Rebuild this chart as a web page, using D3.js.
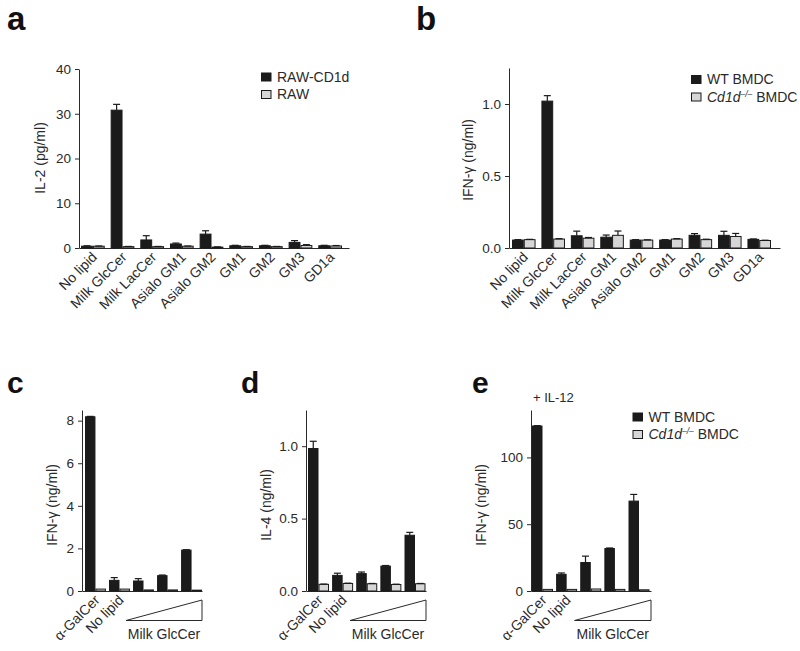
<!DOCTYPE html>
<html><head><meta charset="utf-8">
<script src="https://cdn.jsdelivr.net/npm/d3@7"></script>
<style>
body{margin:0;background:#fff;}
svg{display:block;font-family:"Liberation Sans",Arial,Helvetica,sans-serif;}
</style></head>
<body>
<svg id="chart" width="800" height="651"></svg>
<script>
// ---------- DATA ----------
const catsAB = ["No lipid","Milk GlcCer","Milk LacCer","Asialo GM1","Asialo GM2","GM1","GM2","GM3","GD1a"];
const catsCDE = ["α-GalCer","No lipid","dose1","dose2","dose3"];
const labelsCDE = ["α-GalCer","No lipid","","",""];

// a: IL-2 (pg/ml)
const aRawCD1d    = [0.4, 30.8, 1.8, 0.9, 3.1, 0.5, 0.5, 1.25, 0.5];
const aRawCD1dErr = [0.1, 1.3, 0.95, 0.2, 0.75, 0.1, 0.1, 0.4, 0.1];
const aRaw        = [0.4, 0.3, 0.3, 0.4, 0.2, 0.3, 0.3, 0.55, 0.45];
const aRawErr     = [0.05, 0.05, 0.05, 0.05, 0.05, 0.05, 0.05, 0.2, 0.1];

// b: IFN-γ (ng/ml)
const bWT     = [0.055, 1.02, 0.085, 0.075, 0.055, 0.055, 0.088, 0.088, 0.06];
const bWTErr  = [0.003, 0.038, 0.032, 0.015, 0.003, 0.003, 0.012, 0.028, 0.003];
const bKO     = [0.058, 0.062, 0.068, 0.088, 0.055, 0.062, 0.058, 0.08, 0.052];
const bKOErr  = [0.002, 0.003, 0.005, 0.03, 0.002, 0.003, 0.003, 0.021, 0.002];

// c: IFN-γ (ng/ml)
const cWT    = [8.18, 0.5, 0.47, 0.72, 1.92];
const cWTErr = [0.02, 0.13, 0.11, 0.03, 0.02];
const cKO    = [0.09, 0.09, 0.05, 0.05, 0.04];
const cKOErr = [0, 0, 0, 0, 0];

// d: IL-4 (ng/ml)
const dWT    = [0.984, 0.108, 0.12, 0.172, 0.385];
const dWTErr = [0.05, 0.015, 0.011, 0.004, 0.02];
const dKO    = [0.046, 0.052, 0.05, 0.045, 0.05];
const dKOErr = [0.002, 0.002, 0.002, 0.002, 0.002];

// e: IFN-γ (ng/ml), + IL-12
const eWT    = [123.5, 12.5, 21.3, 31.8, 67.3];
const eWTErr = [0.3, 1.0, 4.8, 0.4, 5.0];
const eKO    = [1.2, 1.2, 1.5, 1.2, 0.9];
const eKOErr = [0, 0, 0, 0, 0];

const ticksA = [0, 10, 20, 30, 40];
const ticksB = [0, 0.5, 1.0];
const ticksC = [0, 2, 4, 6, 8];
const ticksD = [0, 0.5, 1.0];
const ticksE = [0, 50, 100];

// ---------- DRAW ----------
const svg = d3.select("#chart");
const BLACK = "#1b1b1b", GREY = "#d6d6d6", INK = "#2a2a2a";
const FS = 14, TFS = 13.5;

function panel(o){
  const g = svg.append("g");
  const y = d3.scaleLinear().domain([0, o.ymax]).range([o.y0, o.yTop]);
  const x = d3.scaleBand().domain(o.cats).range(o.barRange).paddingInner(o.pad).paddingOuter(0);
  const x2 = d3.scaleBand().domain(["s1","s2"]).range([0, x.bandwidth()]);

  // y axis
  const ya = g.append("g").attr("transform", `translate(${o.x0},0)`)
    .call(d3.axisLeft(y).tickValues(o.ticks).tickFormat(o.fmt).tickSize(4).tickSizeOuter(0));
  ya.select(".domain").attr("stroke", INK);
  ya.selectAll(".tick line").attr("stroke", INK);
  ya.selectAll(".tick text").attr("font-size", TFS).attr("fill", INK).attr("font-family", null).attr("dx", "-1");

  // x axis line
  const xl = d3.scaleLinear().range([o.x0, o.x1]);
  const xa = g.append("g").attr("transform", `translate(0,${o.y0})`)
    .call(d3.axisBottom(xl).ticks(0).tickSizeOuter(0));
  xa.select(".domain").attr("stroke", INK);

  const series = [
    {k:"s1", v:o.s1, e:o.e1, fill:BLACK},
    {k:"s2", v:o.s2, e:o.e2, fill:GREY}
  ];
  series.forEach(s => {
    const gg = g.append("g");
    gg.selectAll("rect").data(o.cats).join("rect")
      .attr("x", (c) => x(c) + x2(s.k) + 0.5)
      .attr("width", x2.bandwidth() - 1)
      .attr("y", (c,i) => y(s.v[i]))
      .attr("height", (c,i) => o.y0 - y(s.v[i]))
      .attr("fill", s.fill).attr("stroke", "#1a1a1a").attr("stroke-width", 1);
    // error bars (upper)
    const eb = gg.selectAll("g.err").data(o.cats).join("g").attr("class","err");
    eb.filter((c,i)=>s.e[i]>0).append("line")
      .attr("x1",(c)=>x(c)+x2(s.k)+x2.bandwidth()/2)
      .attr("x2",(c)=>x(c)+x2(s.k)+x2.bandwidth()/2)
      .attr("y1",(c,i)=>y(s.v[i]))
      .attr("y2",(c,i)=>y(s.v[i]+s.e[i]))
      .attr("stroke","#1a1a1a").attr("stroke-width",1.2);
    eb.filter((c,i)=>s.e[i]>0).append("line")
      .attr("x1",(c)=>x(c)+x2(s.k)+x2.bandwidth()/2-3.5)
      .attr("x2",(c)=>x(c)+x2(s.k)+x2.bandwidth()/2+3.5)
      .attr("y1",(c,i)=>y(s.v[i]+s.e[i]))
      .attr("y2",(c,i)=>y(s.v[i]+s.e[i]))
      .attr("stroke","#1a1a1a").attr("stroke-width",1.2);
  });

  // category labels
  g.selectAll("text.cat").data(o.cats).join("text").attr("class","cat")
    .attr("text-anchor","end").attr("font-size",FS).attr("fill",INK)
    .attr("transform",(c)=>`translate(${x(c)+x.bandwidth()/2+5},${o.y0+10}) rotate(-45)`)
    .text((c,i)=>o.labels[i]);

  // y title
  const yt = g.append("text").attr("text-anchor","middle").attr("font-size",FS).attr("fill",INK)
    .attr("transform",`translate(${o.ytx},${o.yty}) rotate(-90)`);
  o.ytitle.forEach(t => yt.append("tspan").text(t));

  // panel letter
  g.append("text").attr("x",o.lx).attr("y",o.ly).attr("font-size",o.lfs).attr("font-weight","bold").attr("fill","#111").text(o.letter);

  // triangle
  if(o.tri){
    const tx = d3.scaleLinear().domain([0,1]).range([o.tri[0], o.x1]);
    const pts = [[tx(0),o.tri[1]],[tx(1),o.tri[2]],[tx(1),o.tri[1]]];
    g.append("path").attr("d", d3.line()(pts)+"Z").attr("fill","none").attr("stroke",INK).attr("stroke-width",1);
    g.append("text").attr("x",(tx(0)+tx(1))/2).attr("y",o.tri[1]+18).attr("text-anchor","middle")
      .attr("font-size",FS).attr("fill",INK).text("Milk GlcCer");
  }
  return g;
}

function legend(x, y, items){
  const g = svg.append("g").attr("transform",`translate(${x},${y})`);
  items.forEach((it,i)=>{
    g.append("rect").attr("x",0.5).attr("y",i*17.5-8.5).attr("width",9.5).attr("height",8).attr("fill",it.fill).attr("stroke","#1a1a1a");
    const t = g.append("text").attr("x",16).attr("y",i*17.5).attr("font-size",FS).attr("fill",INK);
    it.parts.forEach(p=>{
      const ts = t.append("tspan").text(p.t);
      if(p.it) ts.attr("font-style","italic");
      if(p.sup) ts.attr("font-size",8.5).attr("dy",-5);
      if(p.after) ts.attr("dy",5);
    });
  });
}

panel({cats:catsAB, labels:catsAB, s1:aRawCD1d, e1:aRawCD1dErr, s2:aRaw, e2:aRawErr,
  ymax:40, ticks:ticksA, fmt:d3.format("d"), x0:79, x1:349, y0:248, yTop:69, barRange:[81,342], pad:0.2,
  ytitle:["IL-2 (pg/ml)"], ytx:45, yty:158, letter:"a", lx:7, ly:30, lfs:33});
panel({cats:catsAB, labels:catsAB, s1:bWT, e1:bWTErr, s2:bKO, e2:bKOErr,
  ymax:1.25, ticks:ticksB, fmt:d3.format(".1f"), x0:509, x1:780, y0:248, yTop:68, barRange:[512,771], pad:0.2,
  ytitle:["IFN-γ (ng/ml)"], ytx:473, yty:160, letter:"b", lx:416, ly:30, lfs:33});
panel({cats:catsCDE, labels:labelsCDE, s1:cWT, e1:cWTErr, s2:cKO, e2:cKOErr,
  ymax:8.5, ticks:ticksC, fmt:d3.format("d"), x0:82, x1:202, y0:591, yTop:410, barRange:[85,202], pad:0.13,
  ytitle:["IFN-γ (ng/ml)"], ytx:57, yty:505, letter:"c", lx:7, ly:393, lfs:30, tri:[126,620.5,600]});
panel({cats:catsCDE, labels:labelsCDE, s1:dWT, e1:dWTErr, s2:dKO, e2:dKOErr,
  ymax:1.25, ticks:ticksD, fmt:d3.format(".1f"), x0:306, x1:426, y0:591, yTop:410, barRange:[308,425.5], pad:0.13,
  ytitle:["IL-4 (ng/ml)"], ytx:271, yty:505, letter:"d", lx:241, ly:393, lfs:30, tri:[350,620.5,600]});
panel({cats:catsCDE, labels:labelsCDE, s1:eWT, e1:eWTErr, s2:eKO, e2:eKOErr,
  ymax:135.5, ticks:ticksE, fmt:d3.format("d"), x0:531, x1:651, y0:591, yTop:410, barRange:[532,649.5], pad:0.13,
  ytitle:["IFN-γ (ng/ml)"], ytx:486, yty:505, letter:"e", lx:472, ly:393, lfs:30, tri:[574.5,620.5,600]});

svg.append("text").attr("x",533).attr("y",402).attr("font-size",FS-1).attr("fill",INK).text("+ IL-12");

legend(261, 81.5, [{fill:BLACK, parts:[{t:"RAW-CD1d"}]},{fill:GREY, parts:[{t:"RAW"}]}]);
legend(691, 84, [{fill:BLACK, parts:[{t:"WT BMDC"}]},{fill:GREY, parts:[{t:"Cd1d",it:true},{t:"–/–",sup:true,it:true},{t:" BMDC",after:true}]}]);
legend(632.5, 421.5, [{fill:BLACK, parts:[{t:"WT BMDC"}]},{fill:GREY, parts:[{t:"Cd1d",it:true},{t:"–/–",sup:true,it:true},{t:" BMDC",after:true}]}]);
</script>
</body></html>
